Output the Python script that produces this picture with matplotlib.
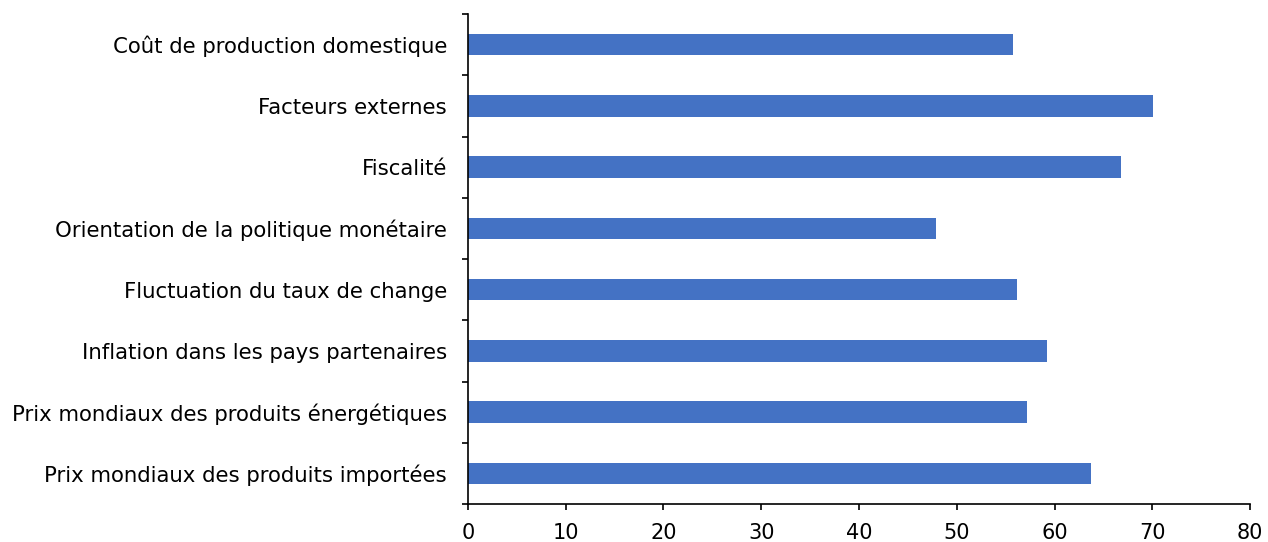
import matplotlib
matplotlib.use("Agg")
import matplotlib.pyplot as plt
import numpy as np

CATEGORIES = [
    "Prix mondiaux des produits importées",
    "Prix mondiaux des produits énergétiques",
    "Inflation dans les pays partenaires",
    "Fluctuation du taux de change",
    "Orientation de la politique monétaire",
    "Fiscalité",
    "Facteurs externes",
    "Coût de production domestique",
]
VALUES = [63.7, 57.2, 59.2, 56.1, 47.9, 66.8, 70.1, 55.7]
X_TICKS = [0, 10, 20, 30, 40, 50, 60, 70, 80]

plt.rcParams.update({"font.family": "DejaVu Sans", "font.size": 15.3})

fig = plt.figure(figsize=(12.68, 5.42), dpi=100)
ax = fig.add_axes([0.369, 0.070, 0.617, 0.904])

pos = np.arange(len(CATEGORIES))
ax.barh(pos, VALUES, height=0.35, color="#4472C4", zorder=2)

ax.set_xlim(0, 80)
ax.set_ylim(-0.5, len(CATEGORIES) - 0.5)
ax.set_xticks(X_TICKS)
ax.set_yticks(pos)
ax.set_yticklabels(CATEGORIES)
ax.set_yticks(np.arange(-0.5, len(CATEGORIES)), minor=True)

ax.tick_params(axis="y", which="major", length=0, pad=15)
ax.tick_params(axis="y", which="minor", length=4.5, width=1.2, direction="out")
ax.tick_params(axis="x", length=4.5, width=1.2, direction="out", pad=9, labelsize=15)

for side in ("top", "right"):
    ax.spines[side].set_visible(False)
for side in ("left", "bottom"):
    ax.spines[side].set_linewidth(1.2)
    ax.spines[side].set_color("black")

fig.savefig("out.png", dpi=100)
